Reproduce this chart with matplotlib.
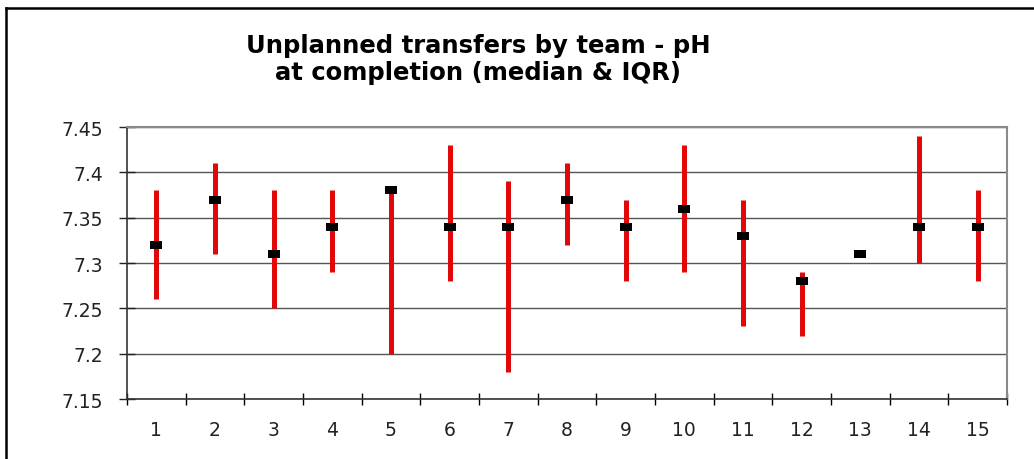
import numpy as np
import matplotlib
matplotlib.use("Agg")
import matplotlib.pyplot as plt
from matplotlib.lines import Line2D

# pH at completion per team: median and interquartile range
teams = list(range(1, 16))
median = [7.32, 7.37, 7.31, 7.34, 7.38, 7.34, 7.34, 7.37, 7.34, 7.36, 7.33, 7.28, 7.31, 7.34, 7.34]
q1 = [7.26, 7.31, 7.25, 7.29, 7.20, 7.28, 7.18, 7.32, 7.28, 7.29, 7.23, 7.22, 7.31, 7.30, 7.28]
q3 = [7.38, 7.41, 7.38, 7.38, 7.38, 7.43, 7.39, 7.41, 7.37, 7.43, 7.37, 7.29, 7.31, 7.44, 7.38]
yticks = [7.15, 7.2, 7.25, 7.3, 7.35, 7.4, 7.45]
ytick_labels = ['7.15', '7.2', '7.25', '7.3', '7.35', '7.4', '7.45']
title_lines = ['Unplanned transfers by team - pH', 'at completion (median & IQR)']

plt.rcParams['font.family'] = ['DejaVu Sans']

fig = plt.figure(figsize=(10.34, 4.6), dpi=100)
ax = fig.add_axes([127/1034, 1 - 400/460, (1007 - 127)/1034, (400 - 128)/460])

x = np.array(teams)
ax.vlines(x, q1, q3, color='#e00808', lw=3.6, zorder=3)
box = [(-6, -4), (6, -4), (6, 4), (-6, 4)]
ax.plot(x, median, ls='none', marker=box, markersize=8.8, color='black',
        markeredgewidth=0, zorder=4)

ax.set_ylim(7.15, 7.45)
ax.set_yticks(yticks)
ax.set_yticklabels(ytick_labels)
ax.set_xlim(0.5, 15.5)
ax.set_xticks(np.arange(0.5, 16, 1))
ax.set_xticklabels([])
ax.set_xticks(x, minor=True)
ax.set_xticklabels([str(t) for t in teams], minor=True)

ax.grid(axis='y', color='#555555', lw=1, zorder=0)
ax.set_axisbelow(True)
ax.tick_params(axis='y', direction='inout', length=12, width=1, pad=11,
               labelsize=13.5, colors='#222222')
ax.tick_params(axis='x', which='major', direction='inout', length=8, width=1)
ax.tick_params(axis='x', which='minor', length=0, pad=15, labelsize=13.5,
               colors='#222222')
for s in ['left', 'bottom']:
    ax.spines[s].set_color('#333333')
    ax.spines[s].set_linewidth(1.2)
for s in ['top', 'right']:
    ax.spines[s].set_color('#8a8a8a')
    ax.spines[s].set_linewidth(1.5)

for line, base in zip(title_lines, [53, 80]):
    fig.text(478/1034, 1 - base/460, line, ha='center', va='baseline',
             fontsize=17.5, fontweight='bold')

# outer frame, runs off the right and bottom edges
fig.add_artist(Line2D([6/1034, 1.01], [1 - 8.5/460, 1 - 8.5/460],
                      color='black', lw=1.8, transform=fig.transFigure))
fig.add_artist(Line2D([6/1034, 6/1034], [-0.01, 1 - 8.5/460],
                      color='black', lw=1.8, transform=fig.transFigure))

fig.savefig('out.png', dpi=100)
